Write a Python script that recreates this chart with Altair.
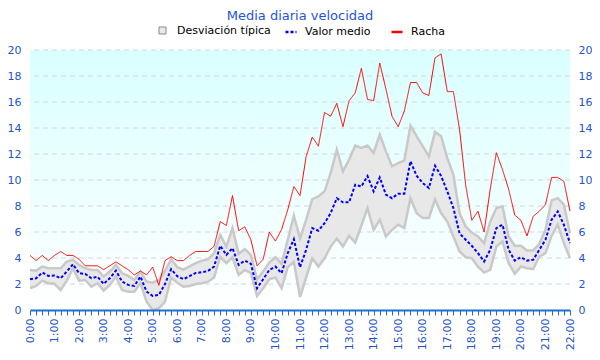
import altair as alt
import pandas as pd

racha = [4.2, 3.8, 4.2, 3.8, 4.2, 4.5, 4.2, 4.2, 3.9, 3.4,
         3.4, 3.4, 3.1, 3.4, 3.7, 3.4, 3.1, 2.7, 3.0, 2.7,
         3.3, 1.9, 3.8, 4.1, 3.8, 3.8, 4.2, 4.5, 4.5, 4.5,
         4.9, 6.8, 6.5, 8.8, 6.1, 6.4, 5.4, 3.4, 3.9, 6.0,
         5.3, 6.2, 7.7, 9.5, 8.8, 11.8, 13.3, 12.6, 15.2, 14.9,
         15.9, 14.1, 16.1, 16.7, 18.6, 16.2, 16.1, 19.0, 17.0, 14.9,
         14.1, 15.3, 17.5, 17.5, 16.7, 16.5, 19.4, 19.7, 16.8, 16.8,
         13.9, 9.6, 6.9, 7.6, 6.0, 9.3, 12.1, 10.8, 9.3, 7.3,
         6.9, 5.7, 7.2, 7.6, 8.1, 10.2, 10.2, 9.9, 7.6]

media = [2.36, 2.44, 2.88, 2.62, 2.65, 2.44, 2.96, 3.52, 2.83, 2.78,
         2.44, 2.57, 2.0, 2.44, 3.03, 2.19, 1.93, 1.85, 2.57, 1.41,
         1.08, 1.16, 2.0, 3.14, 2.6, 2.37, 2.6, 2.85, 2.9, 3.0,
         3.34, 4.94, 4.24, 4.76, 3.47, 3.8, 3.55, 1.67, 2.37, 3.08,
         3.34, 2.83, 4.37, 5.45, 3.29, 4.63, 6.3, 6.1, 6.68, 7.46,
         8.6, 8.28, 8.28, 9.64, 9.5, 10.3, 9.13, 10.2, 8.87, 8.6,
         8.95, 8.95, 11.44, 10.33, 9.77, 9.38, 11.1, 10.3, 9.13, 7.84,
         5.9, 5.4, 4.94, 4.37, 3.73, 4.63, 6.3, 6.56, 4.63, 3.8,
         4.06, 3.8, 3.86, 4.63, 5.4, 6.94, 7.58, 6.56, 5.14]

sup = [3.08, 3.03, 3.34, 3.21, 3.21, 3.21, 3.73, 3.86, 3.47, 3.21,
       3.08, 3.08, 2.57, 2.96, 3.47, 2.83, 2.62, 2.31, 2.96, 2.19,
       2.1, 2.31, 3.0, 3.9, 3.3, 3.1, 3.35, 3.6, 3.8, 3.9,
       4.37, 5.78, 4.88, 6.3, 4.32, 4.68, 4.24, 2.37, 2.96, 3.65,
       4.06, 3.55, 5.4, 7.25, 5.5, 6.94, 8.53, 8.74, 9.13, 10.54,
       12.34, 10.67, 11.57, 12.65, 12.47, 12.65, 12.08, 13.5, 12.2, 11.05,
       11.3, 11.5, 14.19, 13.37, 12.6, 11.8, 13.7, 13.37, 11.7, 10.4,
       7.46, 6.43, 5.96, 5.66, 5.14, 6.8, 7.84, 7.97, 5.66, 4.94,
       4.94, 4.58, 4.58, 5.09, 6.17, 8.43, 8.6, 8.1, 5.9]

inf = [1.67, 1.85, 2.26, 2.06, 2.0, 1.54, 2.26, 3.21, 2.26, 2.31,
       1.8, 2.06, 1.49, 1.93, 2.57, 1.54, 1.41, 1.41, 2.06, 0.64,
       0.0, 0.13, 0.64, 2.5, 2.1, 1.8, 1.85, 2.0, 2.06, 2.18,
       2.5, 4.1, 3.6, 4.06, 2.7, 3.08, 2.83, 1.08, 1.67, 2.37,
       2.5, 1.67, 3.29, 3.7, 1.0, 2.5, 3.98, 3.34, 3.98, 4.88,
       5.5, 4.88, 5.7, 5.19, 6.48, 7.84, 6.17, 6.94, 5.66, 6.17,
       6.56, 6.3, 8.6, 7.46, 7.07, 7.07, 8.5, 7.46, 6.8, 5.66,
       4.5, 4.06, 3.98, 3.34, 2.88, 3.08, 4.88, 5.27, 3.6, 2.78,
       3.34, 3.21, 3.14, 4.11, 4.37, 5.7, 6.56, 5.14, 3.98]

horas = [i * 0.25 for i in range(len(media))]
y_ticks = [0, 2, 4, 6, 8, 10, 12, 14, 16, 18, 20]
series = ["Valor medio", "Racha"]
banda_nombre = "Desviación típica"

FONT = "DejaVu Sans"
LBL = "#1e55cc"
AXC = "#1f6fd0"

df = pd.DataFrame({"h": horas, "sup": sup, "inf": inf, "banda": banda_nombre})
long = pd.concat([
    pd.DataFrame({"h": horas, "v": media, "serie": "Valor medio"}),
    pd.DataFrame({"h": horas, "v": racha, "serie": "Racha"}),
])

xs = alt.Scale(domain=[0, 22], nice=False, zero=False)
ys = alt.Scale(domain=[0, 20], nice=False)

xaxis = alt.Axis(values=horas, labelExpr="datum.value % 1 === 0 ? datum.value + ':00' : ''",
                 labelAngle=270, labelOverlap=False, labelColor=LBL, labelFont=FONT,
                 labelFontSize=11, tickColor=AXC, domainColor=AXC, domainWidth=2,
                 tickSize=5, tickWidth=1, labelPadding=3, grid=False, title=None, zindex=1)
left_axis = alt.Axis(values=y_ticks, labelColor=LBL, labelFont=FONT, labelFontSize=11,
                     domain=False, ticks=False, grid=False, labelPadding=9, title=None)
right_axis = alt.Axis(values=y_ticks, orient="right", labelColor=LBL, labelFont=FONT,
                      labelFontSize=11, domain=False, ticks=False, grid=False,
                      labelPadding=8, title=None)

bg = alt.Chart(pd.DataFrame({"x": [0], "x2": [22], "y": [0], "y2": [20]})).mark_rect(
    fill=alt.Gradient(gradient="linear",
                      stops=[alt.GradientStop(color="#d9ffff", offset=0),
                             alt.GradientStop(color="#ffffff", offset=1)],
                      x1=0, x2=0, y1=0, y2=1)
).encode(
    x=alt.X("x:Q", scale=xs, axis=xaxis), x2="x2",
    y=alt.Y("y:Q", scale=ys, axis=left_axis), y2="y2",
)

grid = alt.Chart(pd.DataFrame({"y": y_ticks[1:]})).mark_rule(
    color="#d6d6d6", strokeDash=[5, 4], strokeWidth=1
).encode(y=alt.Y("y:Q", scale=ys, axis=None))

band = alt.Chart(df).mark_area(opacity=1).encode(
    x=alt.X("h:Q", scale=xs, axis=xaxis),
    y=alt.Y("inf:Q", scale=ys, axis=None), y2="sup",
    fill=alt.Fill("banda:N", scale=alt.Scale(domain=[banda_nombre], range=["#e8e8e8"]),
                  legend=alt.Legend(orient="none", legendX=127, legendY=-25, title=None,
                                    symbolType="square", symbolSize=49,
                                    symbolStrokeColor="#8a8a8a", symbolStrokeWidth=1,
                                    labelFont=FONT, labelFontSize=11, labelColor="#000000",
                                    labelOffset=9, padding=0)),
)

edge_sup = alt.Chart(df).mark_line(color="#c9c9c9", strokeWidth=2.5).encode(
    x=alt.X("h:Q", scale=xs, axis=xaxis), y=alt.Y("sup:Q", scale=ys, axis=None))
edge_inf = alt.Chart(df).mark_line(color="#c9c9c9", strokeWidth=2.5).encode(
    x=alt.X("h:Q", scale=xs, axis=xaxis), y=alt.Y("inf:Q", scale=ys, axis=None))

lines = alt.Chart(long).mark_line().encode(
    x=alt.X("h:Q", scale=xs, axis=xaxis),
    y=alt.Y("v:Q", scale=ys, axis=right_axis),
    color=alt.Color("serie:N", scale=alt.Scale(domain=series, range=["#0000ff", "#ff0000"]),
                    legend=alt.Legend(orient="none", legendX=254, legendY=-25, title=None,
                                      direction="horizontal", symbolType="stroke",
                                      symbolSize=121, symbolStrokeWidth=2.5,
                                      labelFont=FONT, labelFontSize=11, labelColor="#000000",
                                      labelOffset=7, columnPadding=15, padding=0)),
    strokeDash=alt.StrokeDash("serie:N", scale=alt.Scale(domain=series, range=[[3, 2], [1, 0]])),
    strokeWidth=alt.condition(alt.datum.serie == "Racha", alt.value(1), alt.value(2)),
    detail="serie:N",
)

chart = alt.layer(bg, grid, band, edge_sup, edge_inf, lines).resolve_scale(
    y="independent"
).properties(
    width=540, height=260,
    padding={"left": 22, "top": 42, "right": 22, "bottom": 42},
    autosize=alt.AutoSizeParams(type="none"),
    title=alt.TitleParams("Media diaria velocidad", color="#1e55d8", fontSize=13,
                          fontWeight="normal", font=FONT, anchor="middle", offset=2),
).configure_view(stroke=None)

chart.save("out.html", embed_options={"renderer": "svg", "actions": False})
